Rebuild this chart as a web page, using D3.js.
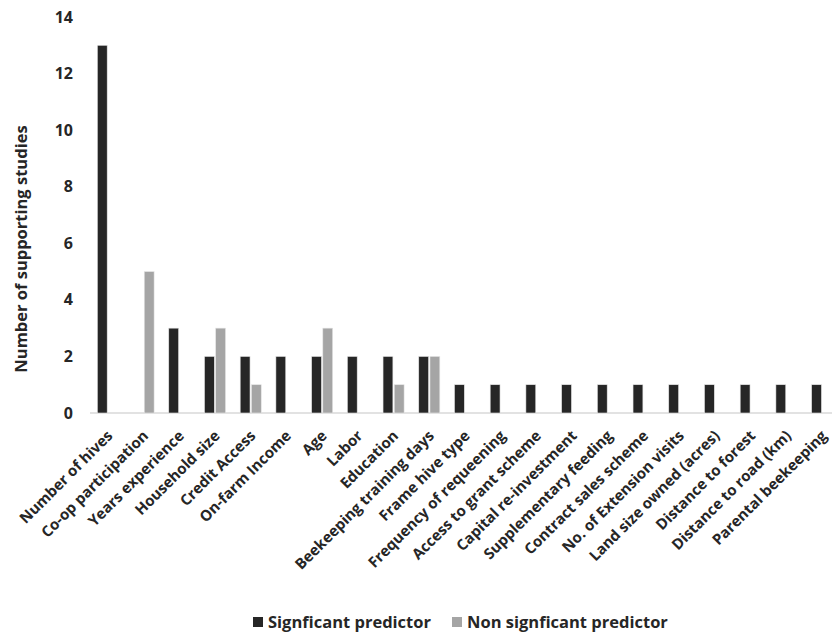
<!DOCTYPE html>
<html>
<head>
<meta charset="utf-8">
<script src="https://cdn.jsdelivr.net/npm/d3@7/dist/d3.min.js"></script>
<style>
  body { margin: 0; background: #fff; }
  svg { display: block; font-family: "Open Sans", "DejaVu Sans", sans-serif; }
</style>
</head>
<body>
<svg id="chart" width="832" height="632"></svg>
<script>
// Determinants of adoption and how many studies support each
const categories = [
  "Number of hives", "Co-op participation", "Years experience", "Household size",
  "Credit Access", "On-farm Income", "Age", "Labor", "Education",
  "Beekeeping training days", "Frame hive type", "Frequency of requeening",
  "Access to grant scheme", "Capital re-investment", "Supplementary feeding",
  "Contract sales scheme", "No. of Extension visits", "Land size owned (acres)",
  "Distance to forest", "Distance to road (km)", "Parental beekeeping"
];
const significant =    [13, 0, 3, 2, 2, 2, 2, 2, 2, 2, 1, 1, 1, 1, 1, 1, 1, 1, 1, 1, 1];
const nonSignificant = [0, 5, 0, 3, 1, 0, 3, 0, 1, 2, 0, 0, 0, 0, 0, 0, 0, 0, 0, 0, 0];
const seriesNames = ["Signficant predictor", "Non signficant predictor"];
const seriesColors = ["#262626", "#a5a5a5"];
const yTicks = [0, 2, 4, 6, 8, 10, 12, 14];

const svg = d3.select("#chart");
const margin = { left: 90, right: -8, top: 17, bottom: 219 };
const W = 832, H = 632;

const x = d3.scaleBand()
  .domain(categories)
  .range([margin.left, W - margin.right])
  .paddingInner(0.41)
  .paddingOuter(0.205);

const sub = d3.scaleBand()
  .domain(seriesNames)
  .range([0, x.bandwidth()])
  .paddingInner(0.12);

const y = d3.scaleLinear().domain([0, 14]).range([H - margin.bottom, margin.top]);

// baseline
svg.append("line")
  .attr("x1", margin.left).attr("x2", W)
  .attr("y1", y(0)).attr("y2", y(0))
  .attr("stroke", "#d9d9d9").attr("stroke-width", 1.5);

// y axis labels (no axis line, no tick marks)
const yAxis = d3.axisLeft(y).tickValues(yTicks).tickSize(0).tickPadding(0);
const gy = svg.append("g").attr("transform", `translate(73,0)`).call(yAxis);
gy.select(".domain").remove();
gy.selectAll("text")
  .attr("font-family", "Open Sans, sans-serif")
  .attr("font-size", 16).attr("font-weight", 700).attr("fill", "#262626");

// y title
svg.append("text")
  .attr("transform", `translate(27,249) rotate(-90)`)
  .attr("text-anchor", "middle")
  .attr("font-size", 16.5).attr("font-weight", 700).attr("fill", "#262626")
  .text("Number of supporting studies");

// bars
const rows = categories.map((c, i) => ({ c, vals: [significant[i], nonSignificant[i]] }));
const groups = svg.append("g").selectAll("g").data(rows).join("g")
  .attr("transform", d => `translate(${x(d.c)},0)`);
groups.selectAll("rect")
  .data(d => d.vals.map((v, k) => ({ v, k })).filter(e => e.v > 0))
  .join("rect")
  .attr("x", e => sub(seriesNames[e.k]))
  .attr("width", sub.bandwidth())
  .attr("y", e => y(e.v))
  .attr("height", e => y(0) - y(e.v))
  .attr("fill", e => seriesColors[e.k])
  .attr("stroke", "#e6e6e6").attr("stroke-width", 0.6);

// category labels, rotated
svg.append("g").selectAll("text").data(categories).join("text")
  .attr("transform", d => `translate(${x(d) + x.bandwidth() / 2 + 2},${y(0) + 20}) rotate(-45)`)
  .attr("text-anchor", "end")
  .attr("dy", "0.35em")
  .attr("font-size", 15).attr("font-weight", 700).attr("fill", "#262626")
  .text(d => d);

// legend
const legend = svg.append("g").attr("transform", "translate(253,617)");
const legX = [0, 199];
seriesNames.forEach((name, k) => {
  const g = legend.append("g").attr("transform", `translate(${legX[k]},0)`);
  g.append("rect").attr("width", 10).attr("height", 10).attr("fill", seriesColors[k]);
  g.append("text").attr("x", 15).attr("y", 5).attr("dy", "0.35em")
    .attr("font-size", 16.5).attr("font-weight", 700).attr("fill", "#262626")
    .text(name);
});
</script>
</body>
</html>
